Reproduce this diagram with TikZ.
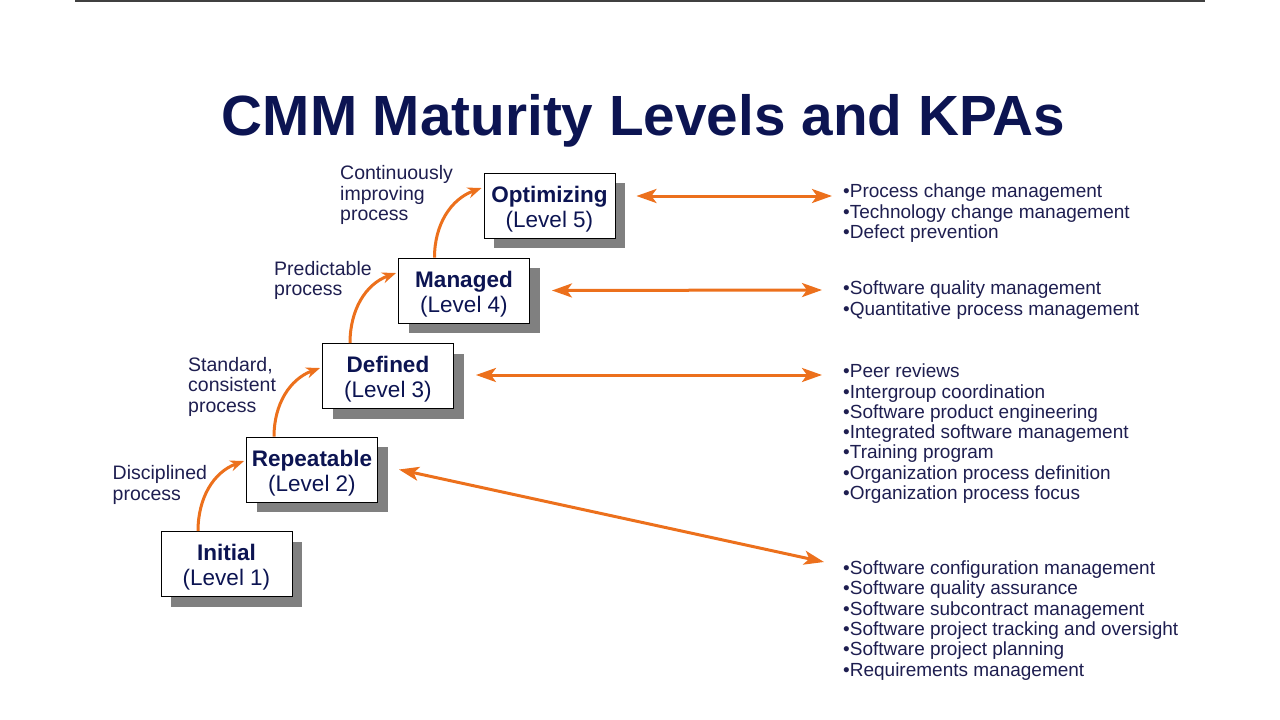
\documentclass[tikz,border=0pt]{standalone}
\usepackage{fontspec}
\setmainfont{Liberation Sans}
\usetikzlibrary{arrows.meta,shadows}
\definecolor{cmmnavy}{RGB}{12,20,82}
\definecolor{cmmtext}{RGB}{30,30,80}
\definecolor{cmmorange}{RGB}{236,112,28}
\newcommand{\lvltop}{\rule{0pt}{23pt}}

\tikzset{
  lvlbox/.style={draw=black, line width=0.9pt, fill=white, minimum width=131pt, minimum height=65pt,
    inner sep=0pt, align=center, text=cmmnavy, font=\fontsize{22.5}{25}\selectfont,
    drop shadow={shadow xshift=10pt, shadow yshift=-10pt, fill=black!50, opacity=1}},
  lbl/.style={anchor=base west, align=left, inner sep=0pt, text=cmmtext, font=\fontsize{19.5}{20.4}\selectfont},
  kpalist/.style={anchor=base west, align=left, inner sep=0pt, text=cmmtext, font=\fontsize{19}{20.3}\selectfont},
  climb/.style={draw=cmmorange, line width=3pt, -{Stealth[length=14pt,width=11pt]}},
  kpa/.style={draw=cmmorange, line width=3pt,
    {Stealth[length=20pt,width=14pt,inset=5pt]}-{Stealth[length=20pt,width=14pt,inset=5pt]}}
}

\begin{document}
\begin{tikzpicture}[x=1pt,y=-1pt]
  \useasboundingbox (0,0) rectangle (1280,720);
  \draw[black!75, line width=2pt] (75,1) -- (1205,1);

  % title
  \node[anchor=base, text=cmmnavy, font=\fontsize{56.7}{60}\selectfont\bfseries] (title) at (643.5,135) {CMM Maturity Levels and KPAs};

  % the five levels
  \node[lvlbox] (init) at (226.5,564) {\lvltop\textbf{Initial}\\(Level 1)};
  \node[lvlbox] (rep) at (312,469.5) {\lvltop\textbf{Repeatable}\\(Level 2)};
  \node[lvlbox] (def) at (388,376) {\lvltop\textbf{Defined}\\(Level 3)};
  \node[lvlbox] (man) at (464,290.5) {\lvltop\textbf{Managed}\\(Level 4)};
  \node[lvlbox] (opt) at (549.5,205.5) {\lvltop\textbf{Optimizing}\\(Level 5)};

  % process labels (placed at last baseline)
  \node[lbl] (lbl2) at (112.5,500) {Disciplined\\process};
  \node[lbl] (lbl3) at (188,412) {Standard,\\consistent\\process};
  \node[lbl] (lbl4) at (274,295.5) {Predictable\\process};
  \node[lbl] (lbl5) at (340,220.5) {Continuously\\improving\\process};

  % key process areas
  \node[kpalist] (kpa5) at (843,238.5) {•Process change management\\•Technology change management\\•Defect prevention};
  \node[kpalist] (kpa4) at (843,315) {•Software quality management\\•Quantitative process management};
  \node[kpalist] (kpa3) at (843,499.5) {•Peer reviews\\•Intergroup coordination\\•Software product engineering\\•Integrated software management\\•Training program\\•Organization process definition\\•Organization process focus};
  \node[kpalist] (kpa2) at (843,676) {•Software configuration management\\•Software quality assurance\\•Software subcontract management\\•Software project tracking and oversight\\•Software project planning\\•Requirements management};

  \coordinate (to5) at (832,196);
  \coordinate (to4) at (822,290);
  \coordinate (to3) at (822,375);
  \coordinate (to2) at (824,562);

  % climbing arrows
  \draw[climb] ([xshift=-28.5pt]init.north) to[out=90,in=200] ([xshift=-2pt,yshift=8.5pt]rep.west);
  \draw[climb] ([xshift=-38pt]rep.north) to[out=90,in=200] ([xshift=-2pt,yshift=8pt]def.west);
  \draw[climb] ([xshift=-38pt]def.north) to[out=90,in=200] ([xshift=-2pt,yshift=17.5pt]man.west);
  \draw[climb] ([xshift=-29.5pt]man.north) to[out=90,in=200] ([xshift=-2pt,yshift=17.5pt]opt.west);

  % level to kpa arrows
  \draw[kpa] ([xshift=21pt,yshift=9.5pt]opt.east) -- (to5);
  \draw[kpa] ([xshift=22pt]man.east) -- (to4);
  \draw[kpa] ([xshift=22pt,yshift=1pt]def.east) -- (to3);
  \draw[kpa] ([xshift=21pt]rep.east) -- (to2);
\end{tikzpicture}
\end{document}
